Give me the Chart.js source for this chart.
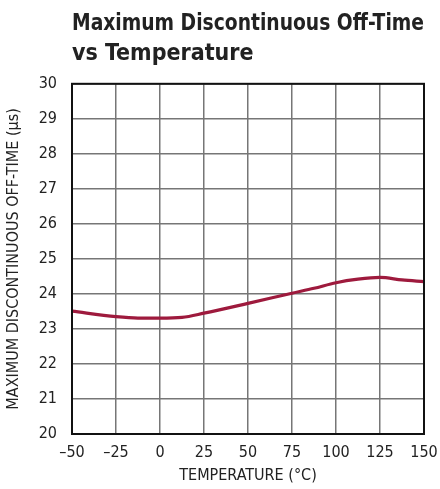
<!DOCTYPE html>
<html>
<head>
<meta charset="utf-8">
<script src="https://cdn.jsdelivr.net/npm/chart.js@4.4.1/dist/chart.umd.min.js"></script>
<style>
  html, body { margin: 0; padding: 0; background: #fff; }
  #wrap { width: 440px; height: 489px; position: relative; }
</style>
</head>
<body>
<div id="wrap"><canvas id="grafico" width="440" height="489"></canvas></div>
<script>
// ---- dados ----
const temperaturas = [-50, -25, -12.5, 0, 12.5, 25, 50, 75, 87.5, 100, 112.5, 125, 137.5, 150];
const offTime      = [23.51, 23.35, 23.31, 23.31, 23.33, 23.45, 23.73, 24.02, 24.16, 24.32, 24.42, 24.47, 24.40, 24.35];
const tituloLinhas = ['Maximum Discontinuous Off-Time', 'vs Temperature'];
const eixoX = 'TEMPERATURE (°C)';
const eixoY = 'MAXIMUM DISCONTINUOUS OFF-TIME (µs)';

const FONTE = "'Liberation Sans Narrow', 'DejaVu Sans Condensed', 'Liberation Sans', sans-serif";
const COR_LINHA = '#9e1a3d';

new Chart(document.getElementById('grafico').getContext('2d'), {
  type: 'line',
  data: {
    datasets: [{
      data: temperaturas.map((t, i) => ({ x: t, y: offTime[i] })),
      borderColor: COR_LINHA,
      borderWidth: 3.2,
      pointRadius: 0,
      cubicInterpolationMode: 'monotone',
      fill: false
    }]
  },
  options: {
    responsive: false,
    animation: false,
    layout: { padding: { left: 0, right: 0, top: 4, bottom: 0 } },
    plugins: {
      legend: { display: false },
      tooltip: { enabled: false },
      title: {
        display: true,
        text: tituloLinhas,
        align: 'start',
        fullSize: false,
        color: '#222',
        font: { family: FONTE, size: 23, weight: 'bold', lineHeight: 1.3 },
        padding: { top: 5, bottom: 15 }
      }
    },
    scales: {
      x: {
        type: 'linear',
        min: -50, max: 150,
        grid: { color: '#767676', lineWidth: 1.5, drawTicks: false },
        border: { color: '#111', width: 2 },
        ticks: {
          stepSize: 25,
          padding: 9,
          color: '#222',
          font: { family: FONTE, size: 16 },
          callback: v => String(v).replace('-', '–')
        },
        title: {
          display: true, text: eixoX, color: '#222',
          font: { family: FONTE, size: 16 }, padding: { top: 0, bottom: 4 }
        },
        afterFit: s => { s.height = 55; s.paddingRight = 16; s.paddingLeft = 0; }
      },
      y: {
        min: 20, max: 30,
        grid: { color: '#767676', lineWidth: 1.5, drawTicks: false },
        border: { color: '#111', width: 2 },
        ticks: {
          stepSize: 1,
          padding: 15,
          color: '#222',
          font: { family: FONTE, size: 16 }
        },
        title: {
          display: true, text: eixoY, color: '#222',
          font: { family: FONTE, size: 16 }, padding: { top: 4, bottom: 4 }
        },
        afterFit: s => { s.width = 72; }
      }
    }
  },
  plugins: [{
    // borda direita e superior do quadro
    id: 'moldura',
    afterDraw(chart) {
      const { ctx, chartArea: a } = chart;
      ctx.save();
      ctx.strokeStyle = '#111';
      ctx.lineWidth = 2;
      ctx.strokeRect(a.left, a.top, a.right - a.left, a.bottom - a.top);
      ctx.restore();
    }
  }]
});
</script>
</body>
</html>
